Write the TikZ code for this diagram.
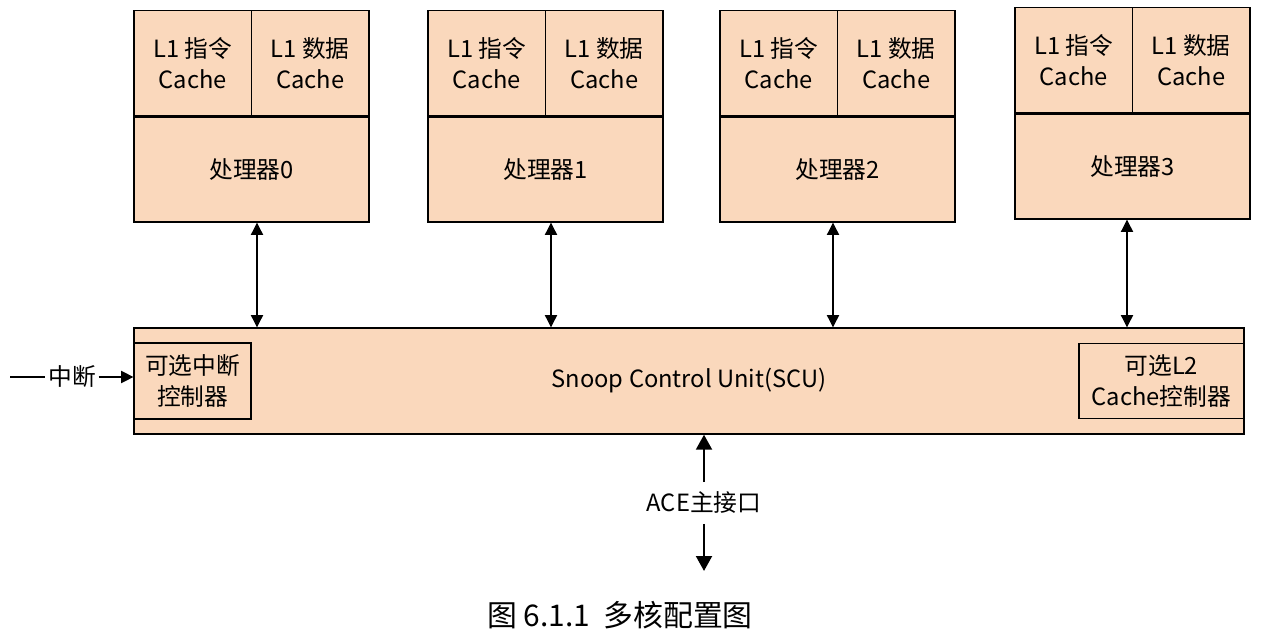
\documentclass[tikz,border=0pt]{standalone}
\usepackage{fontspec}
\setmainfont{Noto Sans CJK SC}
\usetikzlibrary{positioning,arrows.meta,calc}
\definecolor{boxcolor}{RGB}{250,216,188}

\begin{document}
\begin{tikzpicture}[
    x=0.02cm, y=-0.02cm,
    box/.style={draw, fill=boxcolor, line width=0.8pt, inner sep=0pt, align=center, font=\fontsize{13.5}{17.5}\selectfont},
    cachebox/.style={box, minimum width=2.35cm, minimum height=2.1cm},
    link/.style={{Triangle[length=7pt,width=7pt]}-{Triangle[length=7pt,width=7pt]}, line width=0.6pt},
    bigarrow/.style={-{Triangle[length=8.5pt,width=9pt]}, line width=1.4pt},
    label/.style={font=\fontsize{13.5}{17.5}\selectfont}
]
    \useasboundingbox (0,0) rectangle (1264,639);

    % Snoop control unit with its two optional blocks
    \node[box, minimum width=22.2cm, minimum height=2.12cm] (scu) at (689,381) {Snoop Control Unit(SCU)};
    \node[box, anchor=west, minimum width=2.34cm, minimum height=1.52cm] (intc) at (scu.west) {可选中断\\控制器};
    \node[box, anchor=east, minimum width=3.3cm, minimum height=1.5cm] (l2c) at (scu.east) {可选L2\\Cache控制器};

    % Processors with their L1 caches
    \foreach \i/\x/\y/\a in {0/251.5/169.5/257, 1/545.5/169.5/551, 2/837.5/169.5/833, 3/1132.5/166.5/1127} {
        \node[box, minimum width=4.7cm, minimum height=2.1cm] (proc\i) at (\x,\y) {处理器\i};
        \node[cachebox, anchor=south west] (icache\i) at (proc\i.north west) {L1 指令\\Cache};
        \node[cachebox, anchor=south east] (dcache\i) at (proc\i.north east) {L1 数据\\Cache};
        \draw[link] (proc\i.south -| \a,0) -- (scu.north -| \a,0);
    }

    % Interrupt input
    \coordinate (intin) at (10,377);
    \node[label, inner sep=1.5pt] (intlbl) at (72,377) {中断};
    \draw[line width=0.6pt] (intin) -- (intlbl.west);
    \draw[line width=0.6pt, -{Triangle[length=7pt,width=7pt]}] (intlbl.east) -- (intlbl.east -| intc.west);

    % ACE master port
    \node[label, inner sep=5.5pt] (ace) at (704,503) {ACE主接口};
    \coordinate (aceend) at (704,571);
    \draw[bigarrow] (ace.north) -- (ace.north |- scu.south);
    \draw[bigarrow] (ace.south) -- (aceend);

    \node[font=\fontsize{17}{20}\selectfont] (caption) at (620,615) {图 6.1.1\ \ 多核配置图};
\end{tikzpicture}
\end{document}
